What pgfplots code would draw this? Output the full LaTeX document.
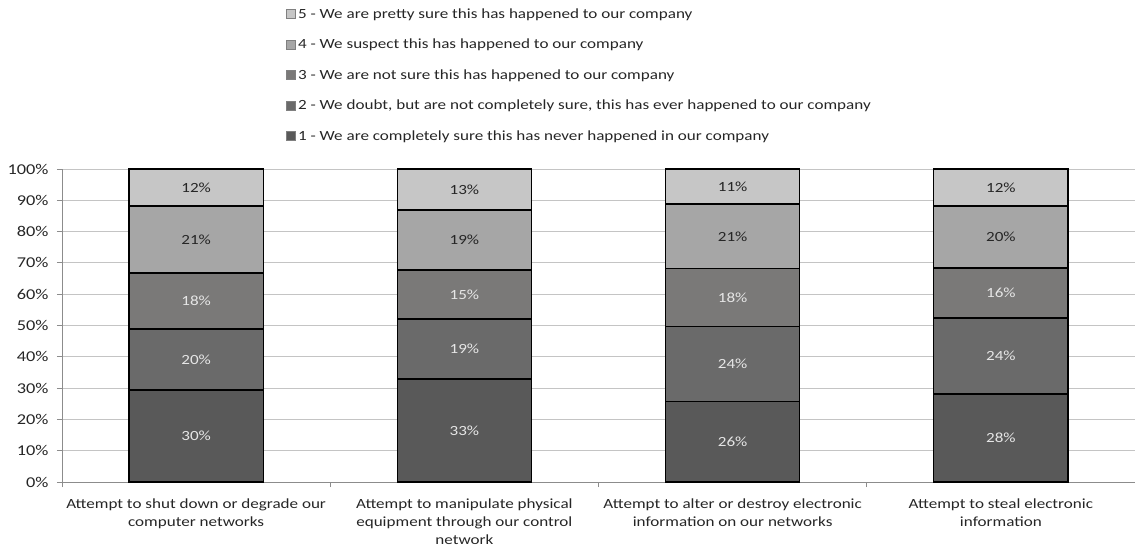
\documentclass[border=0pt]{standalone}
\usepackage{pgfplots}
\usepackage{pgfplotstable}
\pgfplotsset{compat=1.18}
\usepackage{fontspec}
\setmainfont[FakeStretch=1.22]{Carlito}
\definecolor{cA}{HTML}{595959}
\definecolor{cB}{HTML}{6A6A6A}
\definecolor{cC}{HTML}{7A7978}
\definecolor{cD}{HTML}{A6A6A6}
\definecolor{cE}{HTML}{C6C6C6}
\definecolor{txt}{HTML}{262626}
\definecolor{lt}{HTML}{E6E6E6}
\definecolor{gridc}{HTML}{C4C4C4}
\definecolor{axc}{HTML}{8C8C8C}

\pgfplotstableread{
x y lab
0 29.4 30
1 32.9 33
2 25.6 26
3 28.1 28
}\segA
\pgfplotstableread{
x y lab
0 19.5 20
1 19.2 19
2 24.2 24
3 24.3 24
}\segB
\pgfplotstableread{
x y lab
0 17.9 18
1 15.6 15
2 18.3 18
3 16.0 16
}\segC
\pgfplotstableread{
x y lab
0 21.4 21
1 19.2 19
2 20.7 21
3 19.8 20
}\segD
\pgfplotstableread{
x y lab
0 11.8 12
1 13.1 13
2 11.2 11
3 11.8 12
}\segE

\begin{document}
\begin{tikzpicture}
\begin{axis}[
  name=ax,
  scale only axis,
  width=1073pt, height=313pt,
  ybar stacked,
  bar width=0.5,
  xmin=-0.5, xmax=3.5,
  ymin=0, ymax=100,
  axis x line*=bottom,
  axis y line*=left,
  axis line style={axc, line width=0.8pt},
  ytick={0,10,...,100},
  yticklabel={\pgfmathprintnumber{\tick}\%},
  /pgf/number format/assume math mode=true,
  yticklabel style={font=\fontsize{15}{17}\selectfont, text=txt, xshift=-5pt},
  ymajorgrids,
  major grid style={gridc, line width=0.8pt},
  tick style={axc, line width=0.8pt},
  major tick length=5pt,
  ytick align=outside,
  xtick={0,1,2,3},
  xticklabels={
    {Attempt to shut down or degrade our\\computer networks},
    {Attempt to manipulate physical\\equipment through our control\\network},
    {Attempt to alter or destroy electronic\\information on our networks},
    {Attempt to steal electronic\\information}},
  xticklabel style={font=\fontsize{14}{18}\selectfont, text=txt, align=center, anchor=north, yshift=-8pt},
  x tick style={draw=none},
  minor xtick={-0.5,0.5,1.5,2.5},
  minor x tick style={draw=axc, line width=0.8pt},
  minor tick length=5pt,
  xtick align=outside,
  point meta=explicit symbolic,
  nodes near coords={\pgfplotspointmeta\%},
  every node near coord/.append style={anchor=center, font=\fontsize{14}{16}\selectfont},
  every axis plot/.append style={draw=black, line width=1.2pt},
  reverse legend,
  legend image code/.code={\draw[#1, draw=gray, line width=0.6pt] (0pt,-4.5pt) rectangle (9pt,4.5pt);},
  legend style={at={(0.209,1.52)}, anchor=north west, draw=none, fill=none,
    font=\fontsize{14}{16}\selectfont, text=txt, row sep=15.3pt, inner sep=0pt,
    cells={anchor=west}},
]
\addplot[fill=cA, nodes near coords style={text=lt}] table[x=x,y=y,meta=lab] {\segA};
\addlegendentry{1 - We are completely sure this has never happened in our company}
\addplot[fill=cB, nodes near coords style={text=lt}] table[x=x,y=y,meta=lab] {\segB};
\addlegendentry{2 - We doubt, but are not completely sure, this has ever happened to our company}
\addplot[fill=cC, nodes near coords style={text=lt}] table[x=x,y=y,meta=lab] {\segC};
\addlegendentry{3 - We are not sure this has happened to our company}
\addplot[fill=cD, nodes near coords style={text=txt}] table[x=x,y=y,meta=lab] {\segD};
\addlegendentry{4 - We suspect this has happened to our company}
\addplot[fill=cE, nodes near coords style={text=txt}] table[x=x,y=y,meta=lab] {\segE};
\addlegendentry{5 - We are pretty sure this has happened to our company}
\end{axis}
\pgfresetboundingbox
\useasboundingbox ([shift={(-62pt,-72pt)}]ax.south west) rectangle ([shift={(0pt,169pt)}]ax.north east);
\end{tikzpicture}
\end{document}
